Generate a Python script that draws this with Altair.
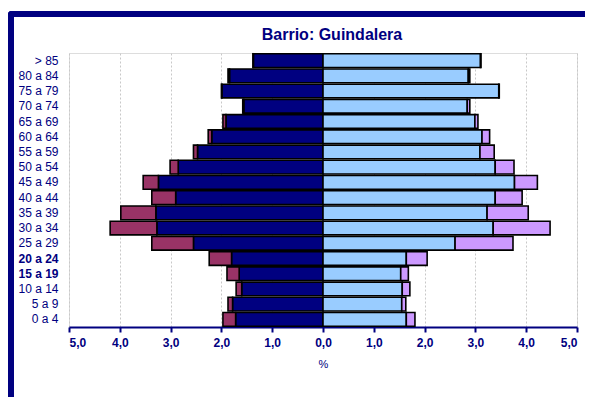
import altair as alt
import pandas as pd

ages = ["> 85", "80 a 84", "75 a 79", "70 a 74", "65 a 69", "60 a 64", "55 a 59",
        "50 a 54", "45 a 49", "40 a 44", "35 a 39", "30 a 34", "25 a 29",
        "20 a 24", "15 a 19", "10 a 14", "5 a 9", "0 a 4"]
men_es = [1.37, 1.84, 1.99, 1.56, 1.91, 2.19, 2.47, 2.85, 3.24, 2.90, 3.29, 3.27, 2.55, 1.80, 1.65, 1.60, 1.78, 1.72]
men_ex = [0.01, 0.03, 0.01, 0.02, 0.06, 0.07, 0.08, 0.16, 0.30, 0.47, 0.69, 0.92, 0.82, 0.44, 0.24, 0.11, 0.09, 0.25]
wom_es = [3.10, 2.86, 3.46, 2.84, 2.99, 3.13, 3.09, 3.39, 3.77, 3.39, 3.23, 3.35, 2.60, 1.64, 1.53, 1.56, 1.55, 1.64]
wom_ex = [0.01, 0.03, 0.01, 0.05, 0.06, 0.15, 0.28, 0.37, 0.45, 0.53, 0.81, 1.12, 1.14, 0.41, 0.15, 0.15, 0.08, 0.17]

groups = ["Hombres españoles", "Hombres extranjeros", "Mujeres españolas", "Mujeres extranjeras"]
colors = ["#000080", "#993366", "#99CCFF", "#CC99FF"]
title_text = "Barrio: Guindalera"

rows = []
for i, a in enumerate(ages):
    rows.append({"edad": a, "grupo": groups[0], "x0": 0.0, "x1": -men_es[i]})
    rows.append({"edad": a, "grupo": groups[1], "x0": -men_es[i], "x1": -(men_es[i] + men_ex[i])})
    rows.append({"edad": a, "grupo": groups[2], "x0": 0.0, "x1": wom_es[i]})
    rows.append({"edad": a, "grupo": groups[3], "x0": wom_es[i], "x1": wom_es[i] + wom_ex[i]})
df = pd.DataFrame(rows)

NAVY = "#000080"
FONT = "Liberation Sans"

bars = alt.Chart(df).mark_bar(stroke="black", strokeWidth=1.6).encode(
    x=alt.X("x0:Q", scale=alt.Scale(domain=[-5, 5], nice=False),
            axis=alt.Axis(values=[-5, -4, -3, -2, -1, 0, 1, 2, 3, 4, 5],
                          labelExpr="replace(format(abs(datum.value), '.1f'), '.', ',')",
                          title="%", titleFontSize=11, titleFont=FONT, titleFontWeight="normal",
                          titleColor=NAVY, titlePadding=10,
                          labelFont=FONT, labelFontSize=12, labelFontWeight="bold", labelColor=NAVY,
                          labelPadding=5, tickSize=5, tickColor=NAVY, tickWidth=2,
                          domainColor=NAVY, domainWidth=2,
                          grid=True, gridColor="#c8c8c8", gridDash=[2, 2], gridWidth=1)),
    x2="x1:Q",
    y=alt.Y("edad:N", sort=ages, title=None,
            scale=alt.Scale(paddingInner=0.1, paddingOuter=0.05),
            axis=alt.Axis(ticks=False, domain=False, labelFont=FONT, labelFontSize=12,
                          labelColor=NAVY, labelPadding=11,
                          labelFontWeight={"condition": {"test": "datum.value == '20 a 24' || datum.value == '15 a 19'", "value": "bold"}, "value": "normal"})),
    color=alt.Color("grupo:N", scale=alt.Scale(domain=groups, range=colors), legend=None),
)

frame_df = pd.DataFrame({"t": [title_text]})
top_bar = alt.Chart(frame_df).mark_rect(color=NAVY, cornerRadiusTopLeft=4).encode(
    x=alt.value(-61), x2=alt.value(516), y=alt.value(-42), y2=alt.value(-36))
left_bar = alt.Chart(frame_df).mark_rect(color=NAVY, cornerRadiusTopLeft=4).encode(
    x=alt.value(-61), x2=alt.value(-55), y=alt.value(-42), y2=alt.value(345))
title = alt.Chart(frame_df).mark_text(font=FONT, fontSize=16, fontWeight="bold", color=NAVY,
                                      align="center", baseline="alphabetic").encode(
    text="t:N", x=alt.value(263), y=alt.value(-13))

chart = alt.layer(top_bar, left_bar, title, bars).properties(
    width=508, height=274,
    autosize=alt.AutoSizeParams(type="none"),
    padding={"left": 61, "top": 45, "right": 8, "bottom": 70},
).configure_view(stroke="#808080", strokeWidth=2).configure(background="white")

chart.save("out.html", embed_options={"renderer": "svg", "actions": False})
